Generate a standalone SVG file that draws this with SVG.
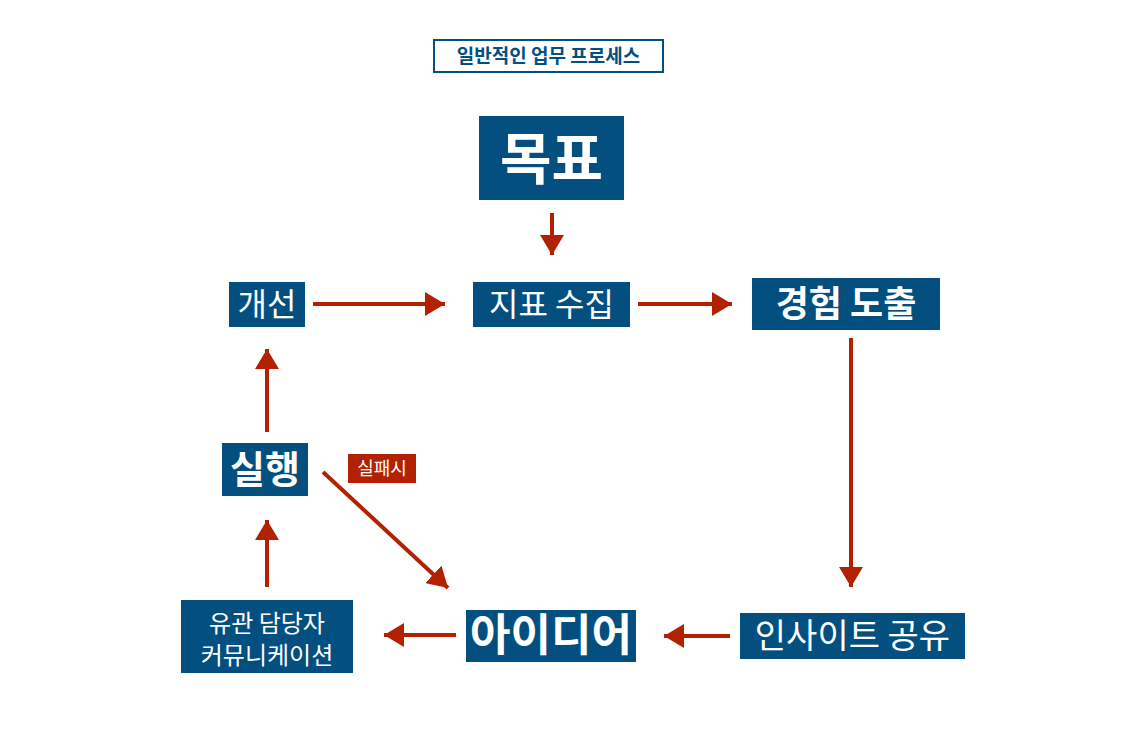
<svg xmlns="http://www.w3.org/2000/svg" width="1133" height="752" viewBox="0 0 1133 752">
<style>
.box{fill:#034f80}
text{font-family:"Noto Sans CJK KR",sans-serif;fill:#fff;text-anchor:middle}
.b{font-weight:bold}
.c{stroke:#b32200;stroke-width:4;fill:none;marker-end:url(#ah)}
</style>
<defs><marker id="ah" markerWidth="6" markerHeight="6" refX="5" refY="3" orient="auto" markerUnits="strokeWidth"><path d="M0,0 L5,3 L0,6 z" fill="#b32200"/></marker></defs>
<rect width="1133" height="752" fill="#fff"/>
<g id="title"><rect x="434" y="40" width="229" height="32" fill="#fff" stroke="#034f80" stroke-width="2"/><text x="548.5" y="63" class="b" font-size="19" style="fill:#034f80">일반적인 업무 프로세스</text></g>
<g id="goal"><rect class="box" x="479" y="116" width="145" height="84"/><text x="551.5" y="179" class="b" font-size="56">목표</text></g>
<g id="improve"><rect class="box" x="229" y="282" width="76" height="45"/><text x="267" y="316" font-size="32">개선</text></g>
<g id="collect"><rect class="box" x="473" y="282" width="157" height="45"/><text x="551.5" y="316" font-size="32">지표 수집</text></g>
<g id="derive"><rect class="box" x="752" y="278" width="188" height="52"/><text x="846" y="317" class="b" font-size="36">경험 도출</text></g>
<g id="execute"><rect class="box" x="222" y="443" width="86" height="53"/><text x="265" y="483" class="b" font-size="38">실행</text></g>
<g id="fail"><rect x="348" y="454" width="68" height="29" fill="#b32200"/><text x="382" y="475" font-size="18">실패시</text></g>
<g id="comm"><rect class="box" x="181" y="600" width="172" height="73"/><text x="267" y="632" font-size="24">유관 담당자</text><text x="267" y="664" font-size="24">커뮤니케이션</text></g>
<g id="idea"><rect class="box" x="466" y="610" width="170" height="52"/><text x="551" y="651" class="b" font-size="44">아이디어</text></g>
<g id="insight"><rect class="box" x="740" y="613" width="225" height="46"/><text x="852.5" y="648" font-size="34">인사이트 공유</text></g>
<g id="connectors">
<path class="c" d="M552 213 V255"/>
<path class="c" d="M313 304 H445"/>
<path class="c" d="M638 304 H732"/>
<path class="c" d="M851 338 V587"/>
<path class="c" d="M730 636 H664"/>
<path class="c" d="M456 635 H384"/>
<path class="c" d="M267 587 V520"/>
<path class="c" d="M267 432 V349"/>
<path class="c" d="M323 472 L448 588"/>
</g>
</svg>
